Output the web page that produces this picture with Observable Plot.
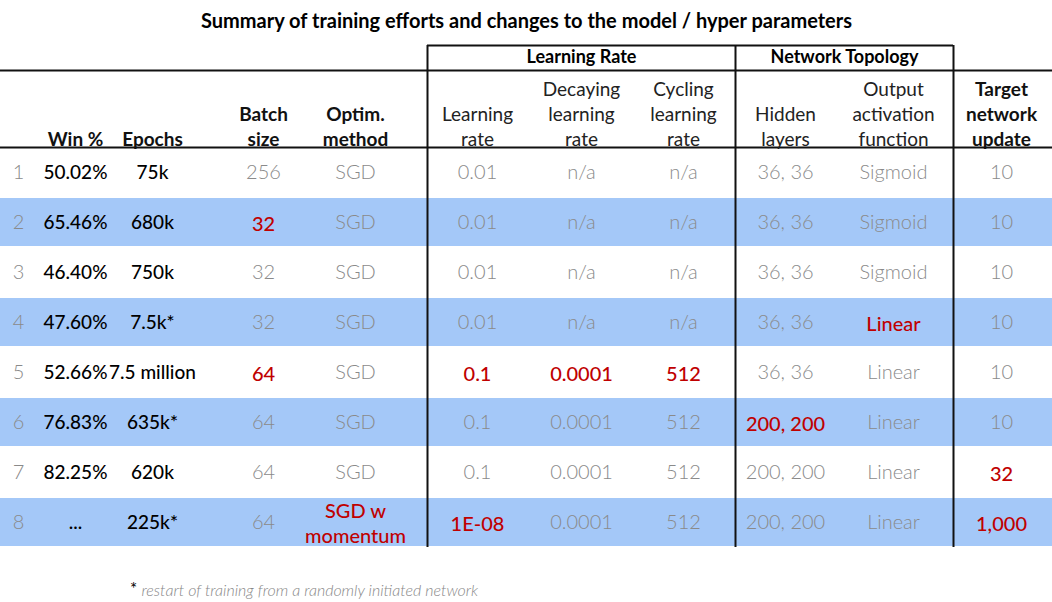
<!DOCTYPE html>
<html><head><meta charset="utf-8">
<script src="https://cdn.jsdelivr.net/npm/d3@7"></script>
<script src="https://cdn.jsdelivr.net/npm/@observablehq/plot@0.6"></script>
<style>body{margin:0;background:#fff}</style>
</head><body><div id="chart"></div>
<script>
const title = "Summary of training efforts and changes to the model / hyper parameters";
const groupLabels = ["Learning Rate", "Network Topology"];
const headers = ["", "Win %", "Epochs", "Batch\nsize", "Optim.\nmethod", "Learning\nrate", "Decaying\nlearning\nrate", "Cycling\nlearning\nrate", "Hidden\nlayers", "Output\nactivation\nfunction", "Target\nnetwork\nupdate"];
const rowNums = ["1","2","3","4","5","6","7","8"];
const winPct = ["50.02%","65.46%","46.40%","47.60%","52.66%","76.83%","82.25%","..."];
const epochs = ["75k","680k","750k","7.5k*","7.5 million","635k*","620k","225k*"];
const batch = ["256","32","32","32","64","64","64","64"];
const optim = ["SGD","SGD","SGD","SGD","SGD","SGD","SGD","SGD w\nmomentum"];
const lr = ["0.01","0.01","0.01","0.01","0.1","0.1","0.1","1E-08"];
const decay = ["n/a","n/a","n/a","n/a","0.0001","0.0001","0.0001","0.0001"];
const cycling = ["n/a","n/a","n/a","n/a","512","512","512","512"];
const hidden = ["36, 36","36, 36","36, 36","36, 36","36, 36","200, 200","200, 200","200, 200"];
const outputFn = ["Sigmoid","Sigmoid","Sigmoid","Linear","Linear","Linear","Linear","Linear"];
const target = ["10","10","10","10","10","10","32","1,000"];
// changed cells: [row index, column index]
const changed = [[1,3],[3,9],[4,3],[4,5],[4,6],[4,7],[5,8],[6,10],[7,4],[7,5],[7,10]];
const footnote = "restart of training from a randomly initiated network";

// layout
const W = 1052, H = 602;
const colX = [18, 75, 152, 263, 355, 477, 581, 683, 785, 893, 1001];
const rowTop = 147, rowH = 50;
const columns = [rowNums, winPct, epochs, batch, optim, lr, decay, cycling, hidden, outputFn, target];
const chSet = new Set(changed.map(d => d.join(",")));
const cells = [];
columns.forEach((col, c) => col.forEach((t, r) => cells.push({r, c, t, ch: chSet.has(r + "," + c)})));
const headerData = headers.map((t, c) => ({t, c, bold: c <= 4 || c === 10}));
const bands = rowNums.map((d, i) => ({i})).filter(d => d.i % 2 === 1);
const font = "Lato, 'Open Sans', sans-serif";
const cellY = d => rowTop + d.r * rowH + rowH / 2;

const plot = Plot.plot({
  width: W, height: H, margin: 0,
  x: {type: "linear", domain: [0, W], range: [0, W], axis: null},
  y: {type: "linear", domain: [0, H], range: [0, H], axis: null},
  style: {fontFamily: font},
  marks: [
    Plot.rect(bands, {x1: 0, x2: W, y1: d => rowTop + d.i * rowH + 1, y2: d => rowTop + (d.i + 1) * rowH - 1, fill: "#a4c8f8"}),
    Plot.ruleY([70, rowTop], {x1: 0, x2: W, stroke: "#111", strokeWidth: 2}),
    Plot.ruleY([45], {x1: 427, x2: 953, stroke: "#111", strokeWidth: 2}),
    Plot.ruleX([427, 735, 953], {y1: 45, y2: rowTop + 8 * rowH, stroke: "#111", strokeWidth: 2}),
    Plot.text([title], {x: W / 2, y: 21, text: d => d, fontSize: 20, fontWeight: 700, fill: "#000"}),
    Plot.text(groupLabels, {x: (d, i) => [581, 844][i], y: 57, text: d => d, fontSize: 18, fontWeight: 700, fill: "#000"}),
    Plot.text(headerData.filter(d => d.bold), {x: d => colX[d.c], y: 145, text: "t", lineAnchor: "bottom", lineHeight: 1.3, fontSize: 19, fontWeight: 700, fill: "#111"}),
    Plot.text(headerData.filter(d => !d.bold), {x: d => colX[d.c], y: 145, text: "t", lineAnchor: "bottom", lineHeight: 1.3, fontSize: 19, fontWeight: 400, fill: "#222"}),
    Plot.text(cells.filter(d => d.ch), {x: d => colX[d.c], y: cellY, text: "t", lineHeight: 1.25, fontSize: 20, fill: "#c00000", fontWeight: 500}),
    Plot.text(cells.filter(d => !d.ch && (d.c === 1 || d.c === 2)), {x: d => colX[d.c], y: cellY, text: "t", fontSize: 19, fill: "#000", fontWeight: 500}),
    Plot.text(cells.filter(d => !d.ch && d.c !== 1 && d.c !== 2), {x: d => colX[d.c], y: cellY, text: "t", fontSize: 20, fill: "#8a8a8a", fontWeight: 300}),
    Plot.text(["*"], {x: 133, y: 589, text: d => d, fontSize: 17, fill: "#000"}),
    Plot.text([footnote], {x: 141, y: 590, text: d => d, textAnchor: "start", fontSize: 16, fontStyle: "italic", fontWeight: 300, fill: "#888"})
  ]
});
document.getElementById("chart").append(plot);
</script></body></html>
